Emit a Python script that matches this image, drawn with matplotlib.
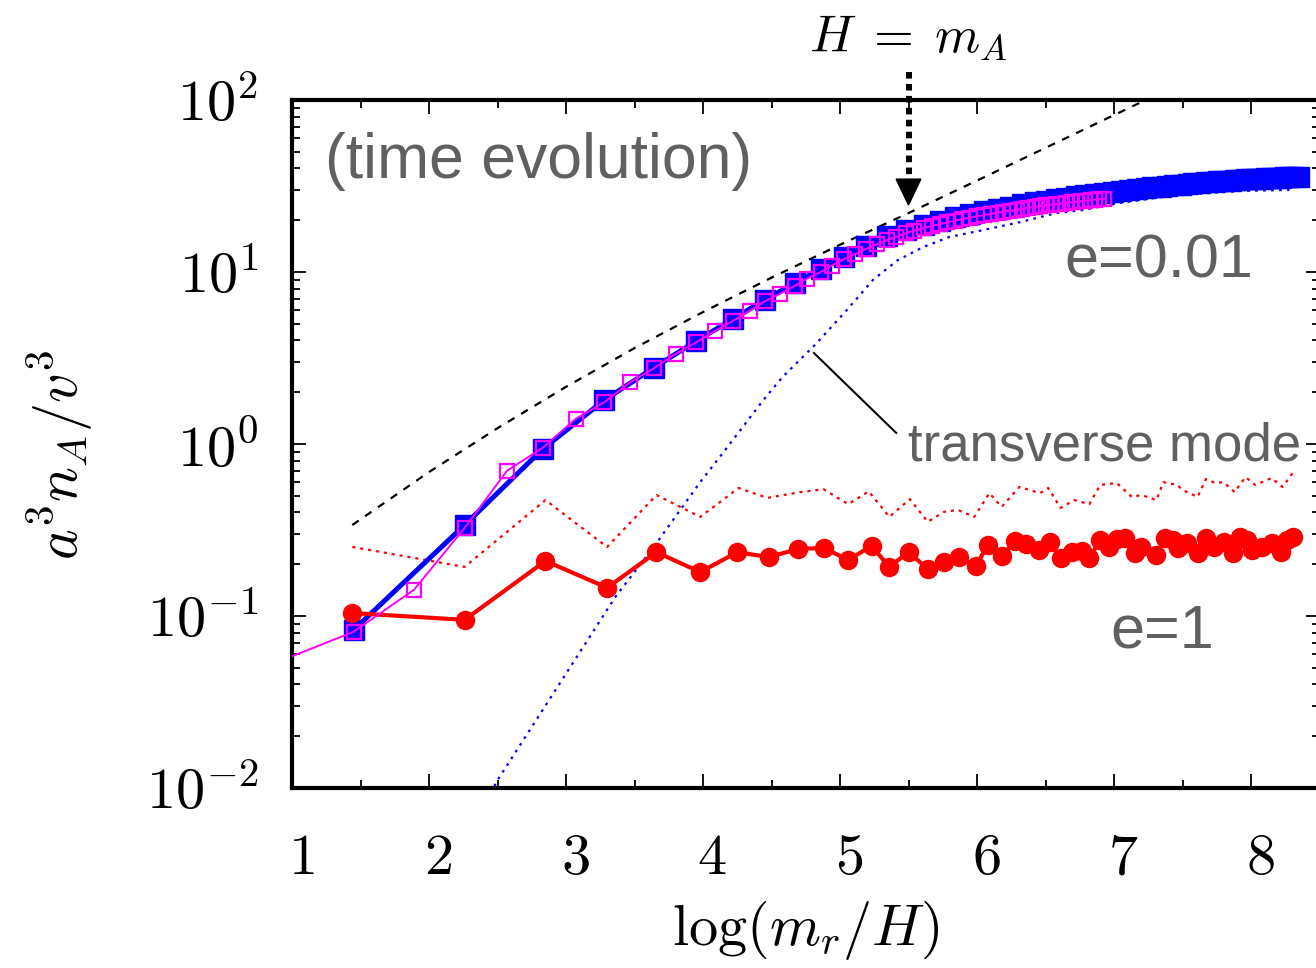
import numpy as np
import matplotlib
matplotlib.use("Agg")
import matplotlib.pyplot as plt
from matplotlib.ticker import FixedLocator, MultipleLocator, LogLocator, NullFormatter
from matplotlib.patches import Polygon
import matplotlib.transforms as mtransforms

plt.rcParams['mathtext.fontset'] = 'cm'
plt.rcParams['font.family'] = ['Liberation Sans', 'DejaVu Sans']

# e=0.01 (blue filled squares)
x_blue = [1.45, 2.26, 2.83, 3.28, 3.64, 3.95, 4.22, 4.45, 4.67, 4.86, 5.03, 5.19, 5.34,
          5.48, 5.61, 5.73, 5.84, 5.95, 6.05, 6.15, 6.24, 6.33, 6.42, 6.50, 6.58, 6.65,
          6.72, 6.79, 6.86, 6.93, 6.99, 7.05, 7.11, 7.17, 7.23, 7.28, 7.34, 7.39, 7.44,
          7.49, 7.54, 7.58, 7.63, 7.67, 7.72, 7.76, 7.80, 7.84, 7.88, 7.92, 7.96, 8.00,
          8.04, 8.07, 8.11, 8.15, 8.18, 8.22, 8.25, 8.28, 8.31, 8.35]
y_blue = [0.083, 0.338, 0.935, 1.80, 2.77, 3.97, 5.33, 6.87, 8.63, 10.4, 12.2, 14.2, 16.2,
          17.6, 18.8, 19.8, 20.8, 21.7, 22.5, 23.3, 24.0, 24.7, 25.4, 26.0, 26.5, 27.0,
          27.5, 27.9, 28.3, 28.7, 29.1, 29.5, 29.9, 30.3, 30.7, 31.0, 31.3, 31.6, 31.9,
          32.2, 32.5, 32.8, 33.0, 33.2, 33.4, 33.6, 33.8, 34.0, 34.2, 34.3, 34.5, 34.7,
          34.8, 34.9, 35.1, 35.2, 35.3, 35.4, 35.5, 35.6, 35.7, 35.8]

# e=0.01, finer time step (magenta open squares)
x_mag = [0.87, 1.45, 1.89, 2.26, 2.57, 2.83, 3.07, 3.28, 3.47, 3.64, 3.80, 3.95, 4.09,
         4.22, 4.34, 4.45, 4.56, 4.67, 4.76, 4.86, 4.94, 5.03, 5.11, 5.19, 5.27, 5.34,
         5.41, 5.48, 5.54, 5.61, 5.67, 5.73, 5.78, 5.84, 5.89, 5.95, 6.00, 6.05, 6.10,
         6.15, 6.19, 6.24, 6.29, 6.33, 6.37, 6.42, 6.46, 6.50, 6.54, 6.58, 6.61, 6.65,
         6.69, 6.72, 6.76, 6.79, 6.83, 6.86, 6.89, 6.93]
y_mag = [0.053, 0.081, 0.142, 0.325, 0.70, 0.95, 1.40, 1.75, 2.29, 2.75, 3.34, 3.90, 4.55,
         5.20, 5.95, 6.75, 7.45, 8.30, 9.15, 10.0, 10.9, 11.9, 12.7, 13.6, 14.5, 15.3,
         16.0, 16.8, 17.4, 18.0, 18.5, 19.0, 19.4, 19.9, 20.3, 20.7, 21.1, 21.4, 21.8,
         22.1, 22.4, 22.7, 23.0, 23.3, 23.6, 23.9, 24.1, 24.4, 24.6, 24.8, 25.0, 25.2,
         25.4, 25.6, 25.8, 26.0, 26.2, 26.3, 26.5, 26.6]

# e=0.01 transverse mode (blue dotted)
x_blue_tr = [2.26, 2.50, 3.36, 3.64, 3.98, 4.15, 4.44, 4.58, 4.83, 5.05, 5.24, 5.42, 5.61,
             5.80, 6.01, 6.29, 6.58, 6.77, 7.04, 7.45, 7.94, 8.28]
y_blue_tr = [0.0048, 0.0111, 0.129, 0.252, 0.601, 0.897, 1.80, 2.45, 3.86, 6.01, 8.98, 11.7,
             14.0, 16.0, 17.3, 19.3, 22.0, 22.9, 25.2, 28.0, 29.6, 30.0]

# e=1 (red filled circles)
x_red = [1.44, 2.26, 2.85, 3.30, 3.66, 3.98, 4.25, 4.48, 4.69, 4.88, 5.06, 5.23, 5.36,
         5.50, 5.64, 5.76, 5.87, 5.99, 6.08, 6.18, 6.28, 6.36, 6.45, 6.53, 6.61, 6.69,
         6.77, 6.82, 6.90, 6.96, 7.02, 7.08, 7.15, 7.20, 7.31, 7.37, 7.43, 7.47, 7.53,
         7.61, 7.67, 7.73, 7.80, 7.87, 7.92, 7.97, 8.01, 8.08, 8.15, 8.22, 8.26, 8.31]
y_red = [0.104, 0.095, 0.209, 0.146, 0.235, 0.180, 0.235, 0.220, 0.245, 0.249, 0.212, 0.255,
         0.193, 0.235, 0.188, 0.206, 0.220, 0.195, 0.259, 0.223, 0.273, 0.262, 0.242, 0.269,
         0.217, 0.235, 0.239, 0.217, 0.277, 0.252, 0.280, 0.284, 0.232, 0.252, 0.226, 0.284,
         0.277, 0.249, 0.265, 0.232, 0.284, 0.252, 0.269, 0.232, 0.288, 0.277, 0.242, 0.252,
         0.265, 0.235, 0.277, 0.288]

# e=1 transverse mode (red dotted)
x_red_tr = [1.44, 2.26, 2.85, 3.30, 3.66, 3.98, 4.26, 4.47, 4.71, 4.88, 5.06, 5.21, 5.36,
            5.51, 5.64, 5.76, 5.86, 5.98, 6.09, 6.18, 6.31, 6.46, 6.52, 6.61, 6.71, 6.82,
            6.90, 7.02, 7.13, 7.20, 7.31, 7.36, 7.46, 7.50, 7.61, 7.67, 7.74, 7.80, 7.88,
            7.96, 8.03, 8.15, 8.23, 8.31]
y_red_tr = [0.252, 0.193, 0.472, 0.252, 0.505, 0.377, 0.555, 0.486, 0.525, 0.546, 0.447,
            0.530, 0.377, 0.478, 0.353, 0.403, 0.414, 0.377, 0.518, 0.431, 0.563, 0.518,
            0.555, 0.425, 0.472, 0.447, 0.578, 0.593, 0.492, 0.505, 0.472, 0.600, 0.578,
            0.541, 0.492, 0.625, 0.593, 0.600, 0.525, 0.642, 0.578, 0.634, 0.563, 0.687]

# reference curve (black dashed)
x_ref = [1.44, 2.0, 2.5, 3.0, 3.5, 4.0, 4.5, 5.0, 5.5, 6.0, 6.5, 7.0, 7.5]
y_ref = [0.338, 0.687, 1.236, 2.15, 3.61, 5.85, 9.27, 14.4, 22.0, 34.0, 52.7, 81.7, 126.5]

yticks = [1e-2, 1e-1, 1e0, 1e1, 1e2]
ytick_labels = [r'$10^{-2}$', r'$10^{-1}$', r'$10^{0}$', r'$10^{1}$', r'$10^{2}$']
xticks = [1, 2, 3, 4, 5, 6, 7, 8]

gray = '#606060'

fig = plt.figure(figsize=(13.16, 9.68), dpi=100)
ax = fig.add_axes([292 / 1316, 1 - 788 / 968, 1027.5 / 1316, 688 / 968])

ax.plot(x_ref, y_ref, color='black', lw=1.6, linestyle=(0, (3.5, 3.5)), zorder=2)
ax.plot(x_blue_tr, y_blue_tr, color='#0000ff', lw=1.6, linestyle=(0, (1.2, 2.4)), zorder=2)
ax.plot(x_red_tr, y_red_tr, color='#ff0000', lw=1.6, linestyle=(0, (1.4, 2.2)), zorder=2)

ax.plot(x_blue, y_blue, color='#0000ff', lw=3.6, marker='s', ms=15, mec='#0000ff',
        mfc='#0000ff', zorder=3)
ax.plot(x_mag, y_mag, color='#ff00ff', lw=1.4, marker='s', ms=10, mfc='none',
        mec='#ff00ff', mew=1.6, zorder=4)
ax.plot(x_red, y_red, color='#ff0000', lw=3.0, marker='o', ms=13, mec='#ff0000',
        mfc='#ff0000', zorder=3)

ax.set_yscale('log')
ax.set_xlim(1, 8.5)
ax.set_ylim(1e-2, 1e2)

ax.yaxis.set_major_locator(FixedLocator(yticks))
ax.set_yticklabels(ytick_labels)
ax.yaxis.set_minor_locator(LogLocator(base=10, subs=np.arange(2, 10), numticks=20))
ax.yaxis.set_minor_formatter(NullFormatter())
ax.xaxis.set_major_locator(FixedLocator(xticks))
ax.set_xticklabels([r'$%d$' % v for v in xticks])
ax.xaxis.set_minor_locator(MultipleLocator(0.5))

ax.tick_params(which='both', direction='in', top=True, right=True, width=1.3)
ax.tick_params(which='major', length=10, labelsize=42)
ax.tick_params(which='minor', length=5.5)
ax.tick_params(axis='x', which='major', pad=32)
ax.tick_params(axis='y', which='major', pad=24)
for sp in ax.spines.values():
    sp.set_linewidth(3)

# x tick labels sit a little right of their ticks in the original
shift = mtransforms.ScaledTranslation(9 / 100, 0, fig.dpi_scale_trans)
for lab in ax.get_xticklabels():
    lab.set_transform(lab.get_transform() + shift)

ax.set_xlabel(r'$\log(m_r/H)$', fontsize=42)
ax.xaxis.set_label_coords(0.5, -0.16)
ax.set_ylabel(r'$a^3n_A/v^3$', fontsize=42)
ax.yaxis.label.set_va('center')
ax.yaxis.set_label_coords(-0.226, 0.484)

# gray annotations
ax.text(1.24, 35.2, '(time evolution)', fontsize=45, color=gray, va='baseline', ha='left')
ax.text(6.64, 9.23, 'e=0.01', fontsize=44, color=gray, va='baseline', ha='left')
ax.text(5.50, 0.807, 'transverse mode', fontsize=38, color=gray, va='baseline', ha='left')
ax.text(6.97, 0.0652, 'e=1', fontsize=44, color=gray, va='baseline', ha='left')
ax.plot([4.81, 5.41], [3.38, 1.16], color='black', lw=1.5, zorder=5)

# H = m_A arrow
trans = mtransforms.blended_transform_factory(ax.transData, ax.transAxes)
ax.text(5.5, 1.07, r'$H\;=\;m_A$', fontsize=37, transform=trans, ha='center', va='baseline')
ax.plot([5.5, 5.5], [1.041, 0.885], transform=trans, color='black', lw=4.3,
        linestyle=(0, (1.1, 0.9)), solid_capstyle='butt', dash_capstyle='butt',
        clip_on=False, zorder=6)
head = Polygon([[5.5 - 0.09, 0.885], [5.5 + 0.09, 0.885], [5.5, 0.8474]], closed=True,
               transform=trans, color='black', clip_on=False, zorder=6)
ax.add_patch(head)

fig.savefig('out.png', dpi=100)
